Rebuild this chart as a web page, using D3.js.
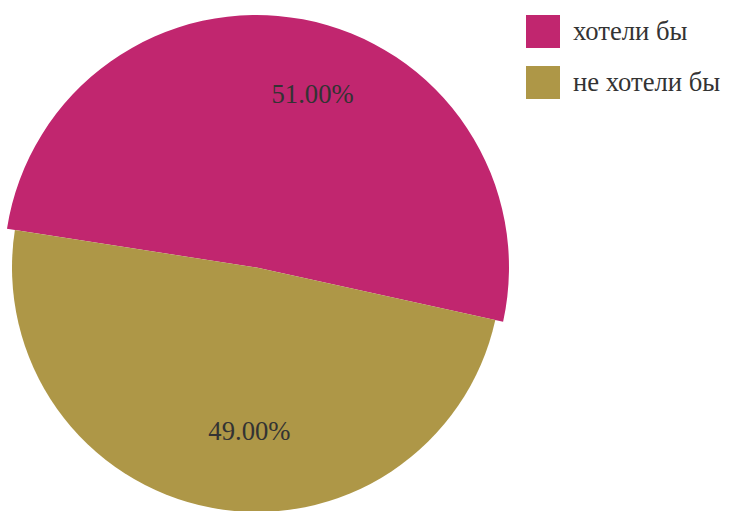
<!DOCTYPE html>
<html>
<head>
<meta charset="utf-8">
<script src="https://cdn.jsdelivr.net/npm/d3@7/dist/d3.min.js"></script>
<style>
  html, body { margin: 0; padding: 0; background: #fff; }
  svg { display: block; }
  text { font-family: "Liberation Serif", "Times New Roman", Tinos, "DejaVu Serif", serif; }
</style>
</head>
<body>
<svg id="chart" width="729" height="511"></svg>
<script>
// Survey answers and their shares (%)
const categories = ["хотели бы", "не хотели бы"];
const values = [51, 49];
const colors = ["#c1266f", "#ae9747"];

const width = 729, height = 511;
const cx = 256.5, cy = 267.5;      // pie centre
const radius = 244.5;              // base radius
const highlightRadius = 252.5;     // first slice drawn slightly larger
const startAngle = -81.2 * Math.PI / 180;
const fontSize = 26.67;

const svg = d3.select("#chart");

const color = d3.scaleOrdinal().domain(categories).range(colors);

const pie = d3.pie()
  .sort(null)
  .value(d => d.value)
  .startAngle(startAngle)
  .endAngle(startAngle + 2 * Math.PI);

const data = categories.map((c, i) => ({ name: c, value: values[i] }));
const arcs = pie(data);

const total = d3.sum(values);

const g = svg.append("g").attr("transform", `translate(${cx},${cy})`);

g.selectAll("path")
  .data(arcs)
  .join("path")
  .attr("d", (a, i) => d3.arc().innerRadius(0).outerRadius(i === 0 ? highlightRadius : radius)(a))
  .attr("fill", a => color(a.data.name));

// Percentage labels
const labelArc = d3.arc().innerRadius(radius * 0.702).outerRadius(radius * 0.702);
const labels = svg.append("g").attr("transform", `translate(${cx + 24.5},${cy - 5})`);
labels.selectAll("text")
  .data(arcs)
  .join("text")
  .attr("x", a => labelArc.centroid(a)[0])
  .attr("y", a => labelArc.centroid(a)[1])
  .attr("text-anchor", "middle")
  .attr("dominant-baseline", "central")
  .attr("font-size", fontSize)
  .attr("fill", "#333")
  .text(a => d3.format(".2f")(a.data.value / total * 100) + "%");

// Legend
const legend = svg.append("g").attr("transform", "translate(526,15)");
const rows = legend.selectAll("g")
  .data(categories)
  .join("g")
  .attr("transform", (c, i) => `translate(0,${i * 51})`);
rows.append("rect")
  .attr("width", 34)
  .attr("height", 33)
  .attr("fill", c => color(c));
rows.append("text")
  .attr("x", 47)
  .attr("y", 24.5)
  .attr("font-size", fontSize)
  .attr("fill", "#333")
  .text(c => c);
</script>
</body>
</html>
